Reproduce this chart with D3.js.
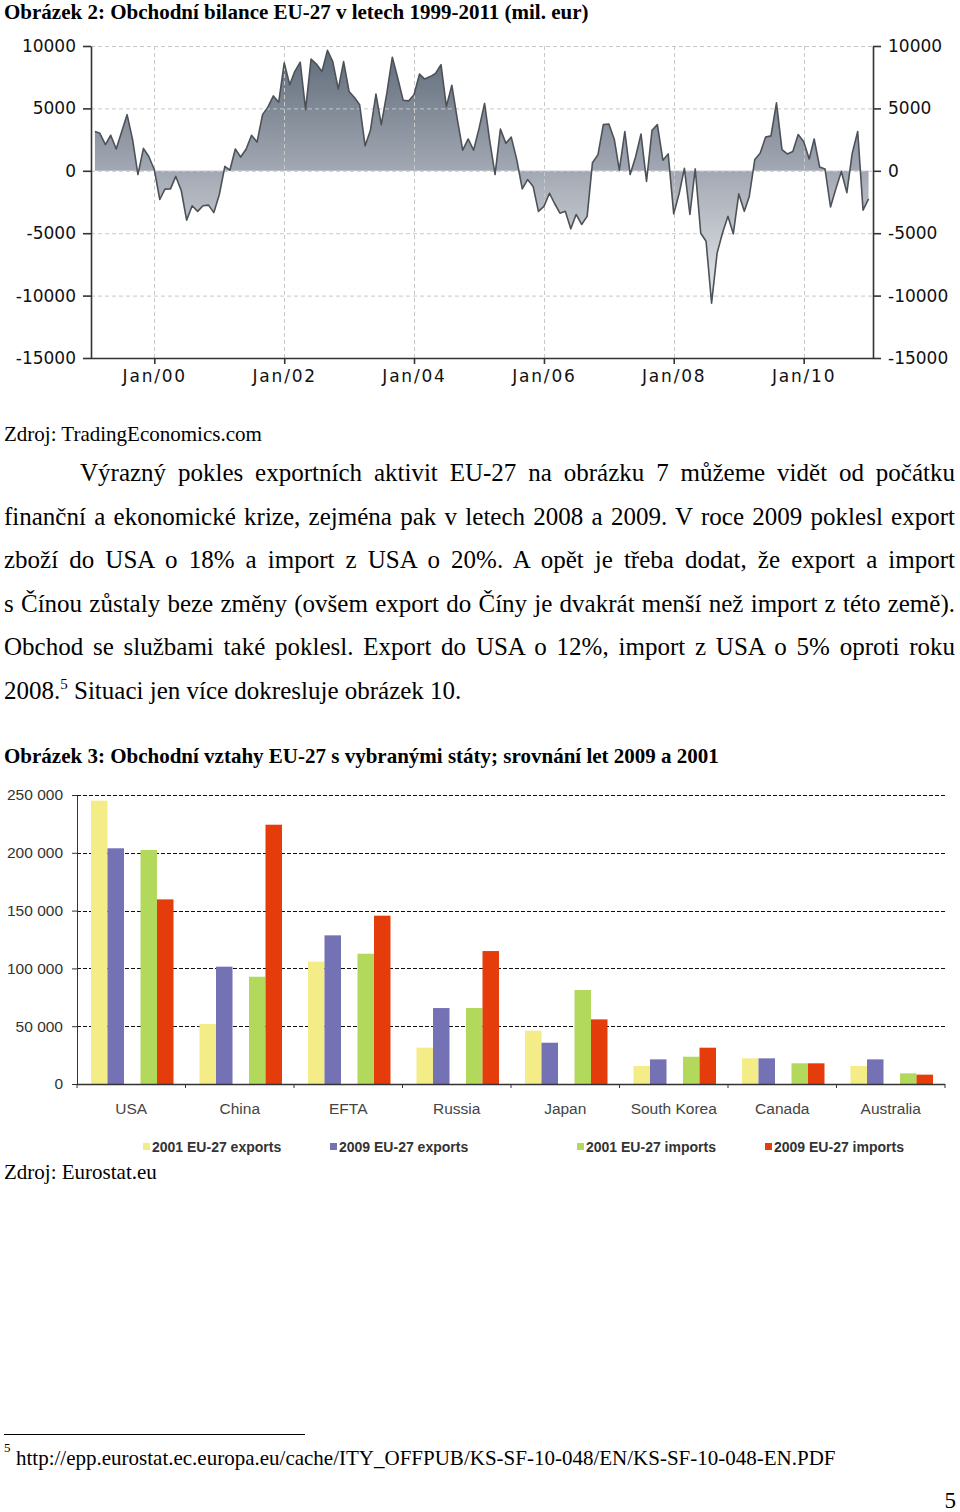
<!DOCTYPE html>
<html><head><meta charset="utf-8">
<script src="https://cdn.jsdelivr.net/npm/d3@7"></script>
<style>
html,body{margin:0;padding:0;background:#fff;}
svg{display:block;}
</style></head>
<body>
<svg id="page" width="960" height="1512"></svg>
<script>
// ---------- Figure 2 data: EU-27 trade balance, monthly, mil. EUR ----------
const balanceStart = new Date(1999, 1, 1); // Feb 1999
const balanceValues = [
  3150, 3000, 2100, 2850, 1750, 3100, 4500, 2500, -300, 1800, 1150,
  100, -2300, -1470, -1450, -450, -1600, -3950, -2800, -3250, -2800, -2750, -3350,
  -1900, 350, 50, 1750, 1100, 1750, 2850, 2300, 4500, 5100, 6000, 5500,
  8650, 6900, 7950, 8700, 4900, 8950, 8550, 7950, 9650, 8750, 6550, 8750,
  6350, 5850, 5300, 2000, 3250, 6150, 3700, 6200, 9100, 7450, 5650, 5600,
  6100, 7750, 7350, 7550, 7800, 8500, 5150, 6850, 4100, 1650, 2550, 1650,
  3400, 5400, 2500, -300, 3350, 2200, 2700, 900, -1450, -700, -1250, -3250,
  -2850, -1800, -2600, -3400, -3250, -4650, -3500, -4300, -3650, 650, 1300, 3700,
  3750, 2500, 50, 3150, -300, 1150, 2950, -850, 3250, 3700, 850, 1350,
  -3450, -1800, 200, -3500, 150, -5000, -5650, -10600, -6600, -5000, -3650, -5050,
  -1850, -3250, -2050, 900, 1400, 2700, 2800, 5450, 1700, 1350, 1550, 2900,
  2350, 950, 2550, 300, 150, -2900, -1450, -50, -1750, 1400, 3150, -3150,
  -2250
];
const balanceXTicks = [2000, 2002, 2004, 2006, 2008, 2010];
const balanceYTicks = [10000, 5000, 0, -5000, -10000, -15000];

// ---------- Figure 3 data: EU-27 trade with selected countries ----------
const categories = ["USA", "China", "EFTA", "Russia", "Japan", "South Korea", "Canada", "Australia"];
const exports2001 = [245100, 51900, 105800, 31400, 46100, 15600, 22200, 15600];
const exports2009 = [203900, 101500, 128600, 65700, 35700, 21300, 22200, 21300];
const imports2001 = [202400, 92800, 112700, 65700, 81300, 23600, 17900, 9200];
const imports2009 = [159700, 224300, 145600, 115000, 55900, 31400, 17900, 8100];
const seriesNames = ["2001 EU-27 exports", "2009 EU-27 exports", "2001 EU-27 imports", "2009 EU-27 imports"];
const seriesColors = ["#f3ec87", "#7571b5", "#b2d85c", "#e43d0b"];
const barYTicks = [0, 50000, 100000, 150000, 200000, 250000];

// ---------- Texts ----------
const title2 = "Obrázek 2: Obchodní bilance EU-27 v letech 1999-2011 (mil. eur)";
const source2 = "Zdroj: TradingEconomics.com";
const paragraphLines = [
  "Výrazný pokles exportních aktivit EU-27 na obrázku 7 můžeme vidět od počátku",
  "finanční a ekonomické krize, zejména pak v letech 2008 a 2009. V roce 2009 poklesl export",
  "zboží do USA o 18% a import z USA o 20%. A opět je třeba dodat, že export a import",
  "s Čínou zůstaly beze změny (ovšem export do Číny je dvakrát menší než import z této země).",
  "Obchod se službami také poklesl. Export do USA o 12%, import z USA o 5% oproti roku"
];
const title3 = "Obrázek 3: Obchodní vztahy EU-27 s vybranými státy; srovnání let 2009 a 2001";
const source3 = "Zdroj: Eurostat.eu";
const footnoteUrl = "http://epp.eurostat.ec.europa.eu/cache/ITY_OFFPUB/KS-SF-10-048/EN/KS-SF-10-048-EN.PDF";

const svg = d3.select("#page");
const serif = "'Liberation Serif','Times New Roman',serif";

// ---------- page texts ----------
svg.append("text").attr("x", 4).attr("y", 19).style("font", `bold 21px ${serif}`).text(title2);
svg.append("text").attr("x", 4).attr("y", 441).style("font", `21px ${serif}`).text(source2);

const lineY0 = 481, lineStep = 43.5;
paragraphLines.forEach((t, i) => {
  const x0 = i === 0 ? 80 : 4;
  const tx = svg.append("text").attr("x", x0).attr("y", lineY0 + i * lineStep)
    .style("font", `25px ${serif}`).text(t);
  const len = tx.node().getComputedTextLength();
  const spaces = (t.match(/ /g) || []).length;
  tx.style("word-spacing", ((955 - x0 - len) / spaces) + "px");
});
const last = svg.append("text").attr("x", 4).attr("y", lineY0 + 5 * lineStep).style("font", `25px ${serif}`);
last.append("tspan").text("2008.");
last.append("tspan").attr("dy", -10).style("font-size", "15px").text("5");
last.append("tspan").attr("dy", 10).text(" Situaci jen více dokresluje obrázek 10.");

svg.append("text").attr("x", 4).attr("y", 763).style("font", `bold 21px ${serif}`).text(title3);
svg.append("text").attr("x", 4).attr("y", 1179).style("font", `21px ${serif}`).text(source3);

svg.append("line").attr("x1", 4).attr("x2", 305).attr("y1", 1434.5).attr("y2", 1434.5)
  .attr("stroke", "#000").attr("stroke-width", 1);
svg.append("text").attr("x", 4).attr("y", 1452).style("font", `13px ${serif}`).text("5");
svg.append("text").attr("x", 16).attr("y", 1465).style("font", `21px ${serif}`).text(footnoteUrl);
svg.append("text").attr("x", 956).attr("y", 1508).attr("text-anchor", "end").style("font", `23px ${serif}`).text("5");

// ---------- Figure 2 ----------
(function () {
  const data = balanceValues.map((v, i) => ({ date: d3.timeMonth.offset(balanceStart, i), value: v }));
  const L = 91, R = 873, T = 46, B = 358;
  const x = d3.scaleTime().domain([new Date(1999, 0, 10), new Date(2011, 0, 26)]).range([L, R]);
  const y = d3.scaleLinear().domain([-15000, 10000]).range([B, T]);
  const g = svg.append("g");

  const defs = svg.append("defs");
  const grad = defs.append("linearGradient").attr("id", "balGrad")
    .attr("gradientUnits", "userSpaceOnUse").attr("x1", 0).attr("x2", 0).attr("y1", T).attr("y2", 300);
  grad.append("stop").attr("offset", 0).attr("stop-color", "#5e6a79");
  grad.append("stop").attr("offset", 0.5).attr("stop-color", "#a4aab4");
  grad.append("stop").attr("offset", 1).attr("stop-color", "#e6e8eb");

  g.append("path").datum(data)
    .attr("d", d3.area().x(d => x(d.date)).y0(y(0)).y1(d => y(d.value)))
    .attr("fill", "url(#balGrad)");

  const tickDates = balanceXTicks.map(yr => new Date(yr, 0, 1));
  // grid
  g.selectAll(".hg").data(balanceYTicks.filter(v => v > -15000)).join("line")
    .attr("x1", L).attr("x2", R).attr("y1", d => y(d) + 0.5).attr("y2", d => y(d) + 0.5)
    .attr("stroke", "#c8c8c8").attr("stroke-dasharray", "4,3");
  g.selectAll(".vg").data(tickDates).join("line")
    .attr("x1", d => Math.round(x(d)) + 0.5).attr("x2", d => Math.round(x(d)) + 0.5).attr("y1", T).attr("y2", B)
    .attr("stroke", "#c8c8c8").attr("stroke-dasharray", "4,3");

  g.append("path").datum(data)
    .attr("d", d3.line().x(d => x(d.date)).y(d => y(d.value)))
    .attr("fill", "none").attr("stroke", "#4d5258").attr("stroke-width", 1.6).attr("stroke-linejoin", "round");

  const font = "17px 'DejaVu Sans',Verdana,sans-serif";
  const fmt = d => String(d);
  const yl = g.append("g").attr("transform", `translate(${L},0)`)
    .call(d3.axisLeft(y).tickValues(balanceYTicks).tickSize(8).tickSizeOuter(0).tickPadding(7).tickFormat(fmt));
  const yr = g.append("g").attr("transform", `translate(${R},0)`)
    .call(d3.axisRight(y).tickValues(balanceYTicks).tickSize(8).tickSizeOuter(0).tickPadding(7).tickFormat(fmt));
  const xa = g.append("g").attr("transform", `translate(0,${B})`)
    .call(d3.axisBottom(x).tickValues(tickDates).tickSize(6).tickSizeOuter(0).tickPadding(6).tickFormat(d3.timeFormat("Jan/%y")));
  xa.select(".domain").attr("d", `M${L},0.5H${R}`);
  [yl, yr, xa].forEach(a => {
    a.selectAll("path,line").attr("stroke", "#333").attr("stroke-width", 1.6);
    a.selectAll("text").style("font", font).attr("fill", "#111");
  });
  xa.selectAll("text").style("letter-spacing", "1.8px");
})();

// ---------- Figure 3 ----------
(function () {
  const L = 77, R = 945, T = 795, B = 1084;
  const x0 = d3.scaleBand().domain(categories).range([L, R]);
  const slots = ["e01", "e09", "gap", "i01", "i09"];
  const x1 = d3.scaleBand().domain(slots).range([14, 96.5]);
  const y = d3.scaleLinear().domain([0, 250000]).range([B, T]);
  const g = svg.append("g");
  const seriesVals = [exports2001, exports2009, imports2001, imports2009];
  const seriesSlot = ["e01", "e09", "i01", "i09"];

  g.selectAll(".grid").data(barYTicks.filter(v => v > 0)).join("line")
    .attr("x1", L).attr("x2", R).attr("y1", d => Math.round(y(d)) + 0.5).attr("y2", d => Math.round(y(d)) + 0.5)
    .attr("stroke", "#111").attr("stroke-dasharray", "4,2").attr("stroke-width", 1);

  seriesVals.forEach((vals, s) => {
    g.append("g").selectAll("rect").data(vals).join("rect")
      .attr("x", (d, i) => x0(categories[i]) + x1(seriesSlot[s]))
      .attr("width", x1.bandwidth())
      .attr("y", d => y(d)).attr("height", d => B - y(d))
      .attr("fill", seriesColors[s]);
  });

  const ya = g.append("g").attr("transform", `translate(${L},0)`)
    .call(d3.axisLeft(y).tickValues(barYTicks).tickSize(5).tickSizeOuter(0).tickPadding(9)
      .tickFormat(d => d3.format(",")(d).replace(/,/g, " ")));
  ya.selectAll("path,line").attr("stroke", "#333");
  ya.selectAll("text").style("font", "15.5px 'Liberation Sans',Arial,sans-serif").attr("fill", "#333");

  const xa = g.append("g").attr("transform", `translate(0,${B})`);
  xa.append("line").attr("x1", L).attr("x2", R).attr("y1", 0.5).attr("y2", 0.5).attr("stroke", "#333").attr("stroke-width", 1.5);
  xa.selectAll(".tk").data(categories.concat(["end"])).join("line")
    .attr("x1", (d, i) => L + i * x0.step()).attr("x2", (d, i) => L + i * x0.step())
    .attr("y1", 0).attr("y2", 4).attr("stroke", "#333");
  xa.selectAll(".lb").data(categories).join("text")
    .attr("x", d => x0(d) + x0.bandwidth() / 2).attr("y", 30).attr("text-anchor", "middle")
    .style("font", "15.5px 'Liberation Sans',Arial,sans-serif").attr("fill", "#444").text(d => d);

  const legX = [143, 330, 577, 765];
  const leg = g.append("g");
  seriesNames.forEach((n, s) => {
    leg.append("rect").attr("x", legX[s]).attr("y", 1143).attr("width", 7).attr("height", 7).attr("fill", seriesColors[s]);
    leg.append("text").attr("x", legX[s] + 9).attr("y", 1152)
      .style("font", "bold 14px 'Liberation Sans',Arial,sans-serif").attr("fill", "#333").text(n);
  });
})();
</script>
</body></html>
